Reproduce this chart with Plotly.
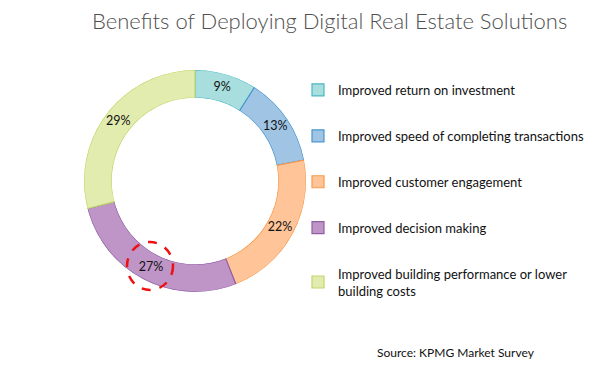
import plotly.graph_objects as go

labels = [
    "Improved return on investment",
    "Improved speed of completing transactions",
    "Improved customer engagement",
    "Improved decision making",
    "Improved building performance or lower<br>building costs",
]
values = [9, 13, 22, 27, 29]
fill_colors = ["#A8DEDD", "#9FC4E4", "#FFC599", "#BE95C6", "#E3ECAF"]
line_colors = ["#4BB8C4", "#4A96CF", "#F79A4E", "#8E5FA5", "#C2D66E"]

total = sum(values)
widths = [v / total * 360 for v in values]
mid_theta = []
acc = 0
for v in values:
    mid_theta.append((acc + v / 2) / total * 360)
    acc += v
pct_text = [f"{round(v / total * 100)}%" for v in values]

dom = dict(x=[(195 - 111) / 600, (195 + 111) / 600],
           y=[(367 - 292) / 367, (367 - 70) / 367])

fig = go.Figure()

# donut ring: one polar bar per category (each also gives a legend entry)
for i, lab in enumerate(labels):
    fig.add_trace(go.Barpolar(
        r=[1], theta=[mid_theta[i]], width=[widths[i]], name=lab,
        legendgroup=f"g{i}",
        marker=dict(color=fill_colors[i], line=dict(color=line_colors[i], width=1.2)),
        hovertemplate=f"{lab}: {pct_text[i]}<extra></extra>",
    ))

# percentage labels on the ring
fig.add_trace(go.Scatterpolar(
    r=[0.5] * len(values), theta=mid_theta, mode="text", text=pct_text,
    textfont=dict(family="Lato", size=12.5, color="#111111"),
    showlegend=False, hoverinfo="skip",
))

fig.add_shape(type="circle", xref="paper", yref="paper",
              x0=127 / 600, x1=173 / 600, y0=1 - 290 / 367, y1=1 - 242 / 367,
              line=dict(color="#EE1111", width=2.5, dash="dash"))

fig.add_annotation(text="Benefits of Deploying Digital Real Estate Solutions",
                   xref="paper", yref="paper", x=90 / 600, y=1 - 20 / 367,
                   xanchor="left", yanchor="middle", showarrow=False,
                   font=dict(family="Lato", size=22, color="#4F4F4F", weight=300))
fig.add_annotation(text="Source: KPMG Market Survey",
                   xref="paper", yref="paper", x=375 / 600, y=1 - 352 / 367,
                   xanchor="left", yanchor="middle", showarrow=False,
                   font=dict(family="Lato", size=12, color="#111111"))

fig.update_layout(
    width=600, height=367,
    margin=dict(l=0, r=0, t=0, b=0),
    paper_bgcolor="white", plot_bgcolor="white",
    polar=dict(domain=dom, hole=0.75, bgcolor="rgba(0,0,0,0)",
               barmode="overlay",
               angularaxis=dict(rotation=90, direction="clockwise", visible=False,
                                showgrid=False, showline=False),
               radialaxis=dict(range=[0, 1], visible=False, showgrid=False,
                               showline=False)),
    legend=dict(x=298 / 600, y=1 - 75 / 367, xanchor="left", yanchor="top",
                font=dict(family="Lato", size=13, color="#111111"),
                tracegroupgap=26, bgcolor="rgba(0,0,0,0)"),
)

fig.write_html("out.html", config={"displayModeBar": False},
               post_script="document.body.style.margin='0';")
